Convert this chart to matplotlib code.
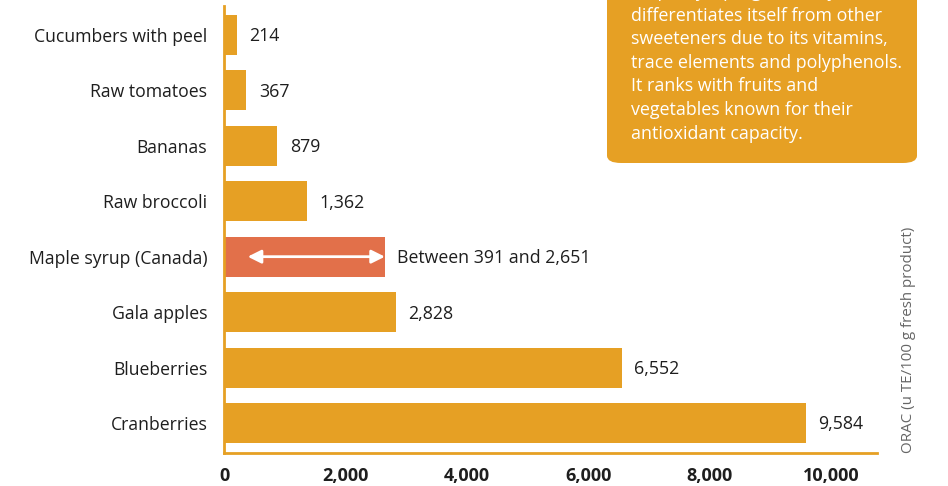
import matplotlib.pyplot as plt
from matplotlib.patches import FancyBboxPatch

foods = ['Cucumbers with peel', 'Raw tomatoes', 'Bananas', 'Raw broccoli',
         'Maple syrup (Canada)', 'Gala apples', 'Blueberries', 'Cranberries']
orac = [214, 367, 879, 1362, 2651, 2828, 6552, 9584]
etiquetas = ['214', '367', '879', '1,362', 'Between 391 and 2,651', '2,828', '6,552', '9,584']
maple_min = 391
maple_max = 2651

xticks = [0, 2000, 4000, 6000, 8000, 10000]
xtick_labels = ['0', '2,000', '4,000', '6,000', '8,000', '10,000']

texto_caja = ['maple syrup significantly',
              'differentiates itself from other',
              'sweeteners due to its vitamins,',
              'trace elements and polyphenols.',
              'It ranks with fruits and',
              'vegetables known for their',
              'antioxidant capacity.']

naranja = '#E6A024'
rojo = '#E2704A'
texto = '#1e1e1e'
fuente = ['Open Sans', 'DejaVu Sans']

plt.rcParams['font.family'] = fuente

fig = plt.figure(figsize=(9.48, 4.86), dpi=100)
ax = fig.add_axes([224 / 948, 1 - 453 / 486, 653 / 948, 447 / 486])

colores = [rojo if 'Maple' in f else naranja for f in foods]
ypos = list(range(len(foods)))
ax.barh(ypos, orac, height=0.72, color=colores, zorder=2)

# flecha doble del jarabe de arce
i_maple = foods.index('Maple syrup (Canada)')
ax.annotate('', xy=(maple_min, i_maple), xytext=(maple_max, i_maple),
            arrowprops=dict(arrowstyle='<|-|>', color='white', lw=2,
                            mutation_scale=20, shrinkA=0, shrinkB=0), zorder=3)

for y, v, t in zip(ypos, orac, etiquetas):
    ax.annotate(t, xy=(v, y), xytext=(9, -1), textcoords='offset points',
                va='center', ha='left', fontsize=12.8, color=texto)

ax.set_xlim(0, 10760)
ax.set_ylim(7.54, -0.52)
ax.set_yticks(ypos)
ax.set_yticklabels(foods, fontsize=12.7, color=texto)
ax.set_xticks(xticks)
ax.set_xticklabels(xtick_labels, fontsize=13, fontweight='bold', color=texto)
ax.tick_params(axis='y', length=0, pad=12)
ax.tick_params(axis='x', length=0, pad=10)

for s in ['top', 'right']:
    ax.spines[s].set_visible(False)
for s in ['left', 'bottom']:
    ax.spines[s].set_color(naranja)
    ax.spines[s].set_linewidth(2)

fig.text(908 / 948, 1 - 340 / 486, 'ORAC (u TE/100 g fresh product)', rotation=90,
         ha='center', va='center', fontsize=10.9, color='#666666')

# caja de texto arriba a la derecha
caja = FancyBboxPatch((607 / 948, 1 - 163 / 486), 310 / 948, 0.5,
                      boxstyle='round,pad=0,rounding_size=0.015',
                      transform=fig.transFigure, facecolor=naranja,
                      edgecolor='none', zorder=5)
fig.patches.append(caja)
for k, linea in enumerate(texto_caja):
    base = -3 + 23.6 * k
    fig.text(631 / 948, 1 - base / 486, linea, ha='left', va='baseline',
             fontsize=12.85, color='white', zorder=6)

fig.savefig('out.png', dpi=100)
